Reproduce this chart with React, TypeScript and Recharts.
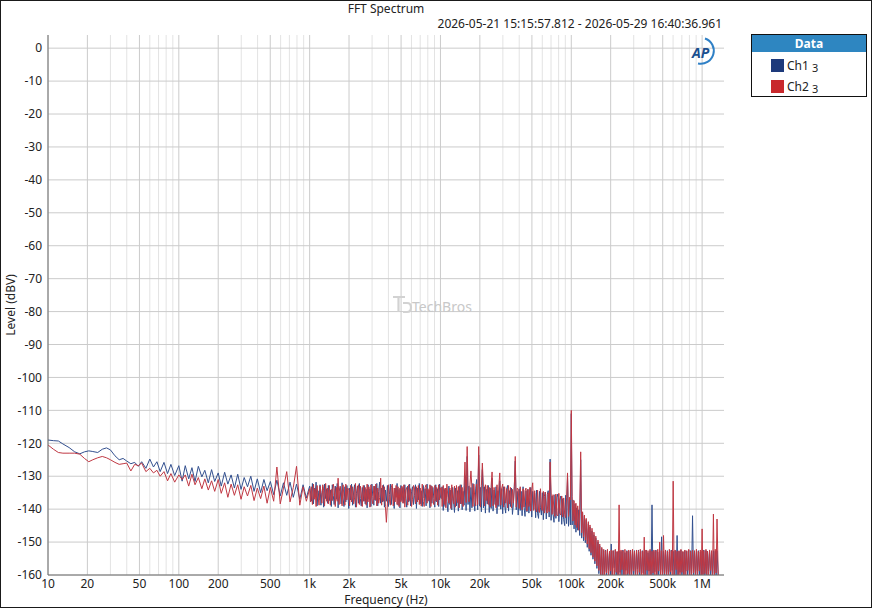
import React from 'react';
import { LineChart, Line, XAxis, YAxis, CartesianGrid } from 'recharts';

// ---- Frequencies (Hz), per band ----
const FREQ_LOW = [10, 11, 12, 13, 14.5, 16, 17.5, 19, 20.5, 22, 24, 26, 28, 30, 32.5, 35, 37.5, 40, 43, 46, 49, 52, 56, 60, 64, 68, 72, 77, 82, 87, 93, 100];
const FREQ_MID = [106, 112, 119, 126, 133, 141, 150, 158, 168, 178, 188, 200, 211, 224, 237, 251, 266, 282, 299, 316, 335, 355, 376, 398, 422, 447, 473, 501, 531, 562, 596, 631, 668, 708, 750, 794, 841, 891, 944, 1000];
const FREQ_1K = [
  1015, 1030, 1050, 1070, 1085, 1100, 1120, 1140, 1160, 1180,
  1200, 1220, 1240, 1260, 1280, 1300, 1325, 1350, 1370, 1390,
  1415, 1440, 1465, 1490, 1515, 1540, 1570, 1600, 1625, 1650,
  1680, 1710, 1740, 1770, 1800, 1830, 1860, 1890, 1925, 1960,
  1990, 2020, 2055, 2090, 2130, 2170, 2205, 2240, 2280, 2320,
  2360, 2400, 2440, 2480, 2525, 2570, 2615, 2660, 2705, 2750,
  2795, 2840, 2890, 2940, 2990, 3040, 3095, 3150, 3205, 3260,
  3315, 3370, 3430, 3490, 3550, 3610, 3670, 3730, 3795, 3860,
  3930, 4000, 4070, 4140, 4210, 4280, 4355, 4430, 4505, 4580,
  4660, 4740, 4820, 4900, 4985, 5070, 5160, 5250, 5340, 5430,
  5525, 5620, 5715, 5810, 5910, 6010, 6115, 6220, 6330, 6440,
  6550, 6660, 6775, 6890, 7010, 7130, 7255, 7380, 7505, 7630,
  7765, 7900, 8035, 8170, 8310, 8450, 8600, 8750, 8900, 9050,
  9205, 9360, 9525, 9690, 9845, 10000];
const FREQ_10K = [
  10150, 10300, 10500, 10700, 10850, 11000, 11200, 11400, 11600, 11800,
  12000, 12200, 12400, 12600, 12800, 13000, 13250, 13500, 13700, 13900,
  14150, 14400, 14650, 14900, 15150, 15400, 15700, 16000, 16250, 16500,
  16800, 17100, 17400, 17700, 18000, 18300, 18600, 18900, 19250, 19600,
  19900, 20200, 20550, 20900, 21300, 21700, 22050, 22400, 22800, 23200,
  23600, 24000, 24400, 24800, 25250, 25700, 26150, 26600, 27050, 27500,
  27950, 28400, 28900, 29400, 29900, 30400, 30950, 31500, 32050, 32600,
  33150, 33700, 34300, 34900, 35500, 36100, 36700, 37300, 37950, 38600,
  39300, 40000, 40700, 41400, 42100, 42800, 43550, 44300, 45050, 45800,
  46600, 47400, 48200, 49000, 49850, 50700, 51600, 52500, 53400, 54300,
  55250, 56200, 57150, 58100, 59100, 60100, 61150, 62200, 63300, 64400,
  65500, 66600, 67750, 68900, 70100, 71300, 72550, 73800, 75050, 76300,
  77650, 79000, 80350, 81700, 83100, 84500, 86000, 87500, 89000, 90500,
  92050, 93600, 95250, 96900, 98450, 100000];
const FREQ_100K = [
  101500, 103000, 105000, 107000, 108500, 110000, 112000, 114000, 116000, 118000,
  120000, 122000, 124000, 126000, 128000, 130000, 132500, 135000, 137000, 139000,
  141500, 144000, 146500, 149000, 151500, 154000, 157000, 160000, 162500, 165000,
  168000, 171000, 174000, 177000, 180000, 183000, 186000, 189000, 192500, 196000,
  199000, 202000, 205500, 209000, 213000, 217000, 220500, 224000, 228000, 232000,
  236000, 240000, 244000, 248000, 252500, 257000, 261500, 266000, 270500, 275000,
  279500, 284000, 289000, 294000, 299000, 304000, 309500, 315000, 320500, 326000,
  331500, 337000, 343000, 349000, 355000, 361000, 367000, 373000, 379500, 386000,
  393000, 400000, 407000, 414000, 421000, 428000, 435500, 443000, 450500, 458000,
  466000, 474000, 482000, 490000, 498500, 507000, 516000, 525000, 534000, 543000,
  552500, 562000, 571500, 581000, 591000, 601000, 611500, 622000, 633000, 644000,
  655000, 666000, 677500, 689000, 701000, 713000, 725500, 738000, 750500, 763000,
  776500, 790000, 803500, 817000, 831000, 845000, 860000, 875000, 890000, 905000,
  920500, 936000, 952500, 969000, 984500, 1000000, 1015000, 1030000, 1050000, 1070000,
  1085000, 1100000, 1120000, 1140000, 1160000, 1180000, 1200000, 1220000, 1240000, 1260000,
  1280000, 1300000, 1330000];

// ---- Ch1 level (dBV) ----
const CH1_LOW = [-119.0, -119.2, -119.3, -120.2, -121.3, -122.6, -123.2, -122.6, -122.3, -122.5, -122.8, -121.8, -121.4, -122.0, -123.8, -125.0, -124.6, -125.4, -126.2, -125.8, -127.0, -125.6, -127.6, -124.8, -127.2, -125.6, -128.6, -125.8, -129.2, -126.4, -129.8, -126.8];
const CH1_MID = [
  -131.5, -126.8, -130.8, -127.4, -131.6, -127.0, -130.2, -128.2, -132.0, -128.0,
  -131.6, -129.0, -133.0, -128.8, -132.4, -129.6, -133.6, -129.4, -134.0, -130.4,
  -133.2, -130.0, -134.6, -130.8, -135.0, -131.0, -134.4, -131.6, -135.6, -131.2,
  -136.0, -132.0, -135.8, -131.8, -136.4, -132.4, -137.0, -132.6, -136.6, -133.0];
const CH1_1K = [
  -134.8, -137.6, -132.2, -138.4, -133.6, -136.2, -131.8, -139.0, -134.4, -137.2,
  -132.6, -138.8, -135.0, -133.2, -139.4, -132.4, -136.8, -133.8, -138.2, -132.8,
  -137.4, -134.2, -139.2, -132.6, -135.8, -138.6, -133.0, -137.0, -132.2, -139.6,
  -134.6, -133.4, -138.4, -132.0, -136.6, -139.2, -133.2, -137.8, -132.8, -135.4,
  -139.8, -133.6, -137.2, -132.4, -138.8, -134.8, -132.6, -139.4, -135.2, -133.0,
  -138.2, -132.2, -136.8, -139.0, -133.4, -137.6, -132.8, -138.4, -134.0, -139.6,
  -132.6, -137.0, -133.8, -139.2, -132.4, -136.2, -138.8, -133.0, -137.4, -132.2,
  -139.0, -134.6, -131.8, -138.2, -133.6, -137.8, -132.6, -139.4, -134.2, -137.6,
  -132.8, -139.2, -135.6, -132.4, -138.6, -133.2, -137.0, -139.8, -133.6, -136.4,
  -132.2, -138.8, -134.0, -139.6, -132.8, -137.4, -133.4, -138.2, -132.6, -136.8,
  -139.4, -133.0, -137.8, -132.4, -139.0, -134.6, -133.2, -138.6, -135.8, -132.6,
  -139.8, -133.6, -137.2, -132.2, -138.4, -134.4, -139.2, -132.8, -136.6, -133.8,
  -139.0, -132.4, -137.6, -134.2, -139.6, -132.8, -138.2, -133.4, -136.8, -139.4,
  -132.6, -137.8, -133.8, -139.2, -132.4, -136.4];
const CH1_10K = [
  -136.8, -133.2, -140.4, -134.0, -139.2, -133.6, -137.6, -140.8, -133.0, -138.6,
  -134.2, -140.2, -133.4, -137.8, -141.0, -133.6, -139.0, -134.4, -140.6, -133.0,
  -138.4, -132.6, -140.2, -134.6, -138.8, -129.8, -140.4, -124.0, -138.6, -133.0,
  -140.8, -133.4, -139.6, -132.2, -137.2, -140.6, -133.6, -131.0, -140.2, -123.6,
  -139.0, -133.4, -140.8, -128.0, -139.6, -133.2, -141.2, -134.0, -138.4, -132.8,
  -141.0, -133.6, -139.8, -130.6, -140.6, -134.2, -138.6, -133.2, -141.4, -134.4,
  -139.2, -131.4, -140.0, -133.8, -141.4, -133.2, -138.8, -141.2, -134.0, -132.8,
  -140.6, -134.4, -139.2, -133.6, -141.6, -138.4, -133.0, -125.4, -140.2, -134.6,
  -141.8, -133.8, -140.4, -134.6, -142.0, -133.2, -139.4, -142.2, -134.4, -140.8,
  -134.0, -141.2, -136.4, -133.4, -142.4, -134.6, -140.0, -135.2, -142.6, -134.2,
  -141.4, -142.8, -134.6, -139.6, -141.8, -135.0, -143.2, -136.2, -134.8, -143.0,
  -135.6, -134.4, -142.4, -124.8, -143.4, -136.0, -141.6, -144.0, -135.6, -142.8,
  -136.4, -135.4, -143.8, -137.2, -136.0, -144.6, -136.8, -143.2, -145.0, -135.8,
  -144.4, -130.4, -145.2, -137.0, -144.8, -111.0];
const CH1_100K = [
  -144.8, -137.2, -146.0, -138.4, -147.0, -139.6, -146.4, -140.2, -148.0, -125.0,
  -148.8, -141.2, -149.6, -142.0, -150.2, -143.2, -151.6, -144.4, -152.8, -145.4,
  -154.0, -146.6, -155.2, -147.8, -156.6, -148.8, -158.0, -150.0, -159.6, -151.2,
  -160.6, -152.0, -161.0, -152.6, -159.0, -152.4, -161.0, -152.8, -158.4, -153.0,
  -161.0, -150.6, -161.0, -152.6, -157.8, -152.4, -161.0, -153.0, -161.0, -152.6,
  -159.2, -152.8, -161.0, -152.4, -161.0, -153.2, -158.6, -152.6, -161.0, -152.8,
  -161.0, -152.4, -159.6, -153.0, -161.0, -152.6, -161.0, -152.8, -158.2, -152.4,
  -161.0, -153.0, -161.0, -152.6, -159.4, -152.8, -161.0, -152.4, -161.0, -153.2,
  -158.8, -152.6, -161.0, -138.7, -161.0, -152.8, -159.0, -152.4, -161.0, -153.0,
  -161.0, -152.6, -158.4, -148.4, -161.0, -152.8, -161.0, -152.4, -159.8, -152.6,
  -161.0, -153.0, -161.0, -152.4, -158.6, -152.8, -161.0, -152.6, -161.0, -148.0,
  -161.0, -152.8, -159.2, -152.4, -161.0, -153.0, -161.0, -152.6, -158.8, -152.8,
  -161.0, -152.4, -161.0, -152.6, -159.4, -142.0, -161.0, -152.8, -161.0, -152.4,
  -158.6, -152.6, -161.0, -153.0, -161.0, -152.8, -159.8, -152.4, -161.0, -152.6,
  -161.0, -152.8, -158.8, -152.4, -161.0, -153.0, -161.0, -152.6, -159.6, -152.8,
  -161.0, -152.6, -161.0];

// ---- Ch2 level (dBV) ----
const CH2_LOW = [-120.5, -121.8, -122.8, -123.0, -123.0, -123.0, -123.3, -124.6, -125.6, -125.0, -124.4, -124.0, -124.4, -125.0, -125.8, -126.4, -126.2, -126.0, -128.4, -126.4, -126.8, -126.0, -128.6, -127.6, -129.0, -128.2, -130.0, -128.6, -131.4, -129.2, -131.8, -129.6];
const CH2_MID = [
  -131.0, -129.6, -133.0, -129.4, -132.6, -130.4, -133.8, -130.8, -134.2, -131.4,
  -134.6, -131.0, -135.2, -132.0, -136.4, -132.4, -135.8, -132.6, -137.0, -133.2,
  -136.0, -132.8, -137.4, -133.6, -136.8, -133.0, -138.2, -133.4, -137.6, -127.2,
  -138.4, -133.6, -128.6, -137.8, -133.4, -127.0, -138.8, -133.2, -137.6, -133.8];
const CH2_1K = [
  -137.8, -133.2, -138.6, -132.4, -137.0, -133.8, -139.2, -132.8, -136.4, -138.8,
  -133.0, -135.6, -138.2, -132.6, -134.4, -139.0, -132.2, -137.6, -133.6, -138.4,
  -132.8, -138.8, -134.0, -137.4, -132.4, -133.8, -139.2, -133.4, -137.6, -130.6,
  -138.6, -133.0, -134.8, -139.0, -132.6, -136.2, -138.8, -132.4, -137.2, -133.6,
  -134.4, -139.0, -132.8, -137.8, -133.2, -138.4, -136.6, -132.2, -139.4, -133.8,
  -132.6, -138.6, -133.0, -135.4, -139.2, -132.8, -137.6, -133.4, -138.8, -132.4,
  -137.8, -133.2, -139.4, -132.6, -136.8, -138.4, -133.0, -137.2, -132.4, -139.0,
  -133.6, -138.2, -136.4, -130.6, -138.8, -132.8, -137.6, -133.2, -139.2, -144.0,
  -138.4, -132.6, -137.2, -138.8, -133.4, -132.4, -139.0, -133.6, -137.8, -132.8,
  -138.6, -133.2, -139.2, -133.6, -137.8, -133.0, -138.2, -132.6, -139.4, -134.2,
  -133.4, -138.8, -132.6, -137.4, -133.8, -139.2, -137.0, -132.8, -133.6, -138.4,
  -133.2, -137.8, -132.8, -138.6, -133.6, -139.0, -132.4, -137.6, -139.2, -133.4,
  -132.6, -138.2, -133.8, -137.4, -132.6, -139.2, -133.0, -136.8, -138.6, -132.8,
  -137.6, -133.4, -138.8, -132.6, -137.2, -133.6];
const CH2_10K = [
  -133.4, -139.2, -132.8, -138.6, -133.6, -139.6, -132.4, -136.4, -138.2, -133.6,
  -139.8, -132.6, -136.8, -138.4, -133.0, -139.4, -132.8, -138.0, -133.2, -139.6,
  -132.6, -138.4, -133.4, -139.2, -132.8, -125.7, -138.0, -121.0, -133.4, -137.8,
  -132.6, -128.4, -133.8, -139.2, -132.4, -136.6, -139.0, -132.4, -138.6, -121.0,
  -133.2, -139.4, -132.8, -126.0, -133.2, -139.0, -132.6, -137.4, -132.8, -138.6,
  -133.4, -139.4, -133.0, -128.7, -139.0, -133.4, -137.6, -139.6, -132.6, -138.8,
  -133.0, -129.0, -138.8, -133.6, -132.4, -139.4, -133.2, -138.2, -133.8, -139.6,
  -132.8, -138.4, -133.4, -139.6, -134.0, -138.2, -133.2, -124.0, -139.4, -133.6,
  -134.0, -139.8, -133.2, -138.6, -140.2, -133.8, -139.4, -134.4, -133.6, -140.6,
  -134.0, -139.2, -133.4, -140.6, -134.2, -132.0, -140.4, -134.4, -139.6, -140.8,
  -134.2, -140.4, -141.0, -133.8, -139.8, -140.4, -134.6, -141.2, -134.8, -140.6,
  -141.2, -135.0, -140.8, -125.7, -134.8, -141.6, -135.6, -141.0, -142.2, -135.4,
  -141.8, -142.0, -135.2, -141.2, -141.8, -136.0, -142.4, -136.6, -141.6, -142.6,
  -136.4, -129.0, -142.2, -136.4, -137.2, -110.0];
const CH2_100K = [
  -136.2, -143.6, -137.4, -144.8, -138.2, -145.6, -139.0, -146.4, -140.0, -122.6,
  -147.2, -140.8, -148.4, -141.8, -149.4, -142.8, -150.6, -143.8, -152.0, -144.8,
  -153.2, -145.8, -154.6, -147.0, -155.8, -148.2, -157.2, -149.4, -158.6, -150.6,
  -160.0, -151.6, -161.0, -152.2, -161.0, -152.6, -159.4, -152.2, -161.0, -152.8,
  -158.8, -152.4, -161.0, -152.6, -161.0, -152.2, -159.2, -152.8, -161.0, -138.7,
  -161.0, -152.4, -158.4, -152.6, -161.0, -152.2, -161.0, -152.8, -159.6, -152.4,
  -161.0, -152.6, -161.0, -152.2, -158.8, -152.8, -161.0, -152.4, -161.0, -152.6,
  -159.2, -152.2, -161.0, -152.8, -161.0, -148.5, -161.0, -152.4, -158.6, -152.6,
  -161.0, -152.2, -161.0, -152.8, -159.4, -152.4, -161.0, -152.6, -161.0, -152.2,
  -158.8, -150.0, -161.0, -152.6, -161.0, -148.0, -159.6, -152.4, -161.0, -152.8,
  -161.0, -152.2, -159.0, -152.6, -161.0, -131.5, -161.0, -152.4, -158.4, -152.8,
  -161.0, -152.6, -161.0, -152.2, -159.2, -152.8, -161.0, -152.4, -161.0, -152.6,
  -158.6, -152.2, -161.0, -152.8, -161.0, -152.4, -159.4, -152.6, -161.0, -152.2,
  -161.0, -152.8, -158.8, -152.4, -161.0, -146.0, -161.0, -152.6, -159.6, -152.2,
  -161.0, -152.8, -161.0, -152.4, -158.6, -152.6, -161.0, -141.5, -161.0, -152.2,
  -159.4, -143.0, -161.0];

// ---- Axes ----
const X_TICKS = [10, 20, 50, 100, 200, 500, 1000, 2000, 5000, 10000, 20000, 50000, 100000, 200000, 500000, 1000000];
const X_TICK_LABELS = ['10', '20', '50', '100', '200', '500', '1k', '2k', '5k', '10k', '20k', '50k', '100k', '200k', '500k', '1M'];
const MINOR_GRID_HZ = [30, 40, 60, 70, 80, 90, 300, 400, 600, 700, 800, 900, 3000, 4000, 6000, 7000, 8000, 9000, 30000, 40000, 60000, 70000, 80000, 90000, 300000, 400000, 600000, 700000, 800000, 900000];
const Y_TICKS = [0, -10, -20, -30, -40, -50, -60, -70, -80, -90, -100, -110, -120, -130, -140, -150, -160];
const X_DOMAIN: [number, number] = [10, 1470000];
const Y_DOMAIN: [number, number] = [-160, 4];

const FREQ_HZ = [...FREQ_LOW, ...FREQ_MID, ...FREQ_1K, ...FREQ_10K, ...FREQ_100K];
const CH1 = [...CH1_LOW, ...CH1_MID, ...CH1_1K, ...CH1_10K, ...CH1_100K];
const CH2 = [...CH2_LOW, ...CH2_MID, ...CH2_1K, ...CH2_10K, ...CH2_100K];

const DATA = FREQ_HZ.map((f, i) => ({ f, ch1: CH1[i], ch2: CH2[i] }));

const FONT = '"Noto Sans", "Open Sans", sans-serif';
const TEXT = '#222222';
const FRAME = '#6e6e6e';

const fmtX = (v: number) => {
  const i = X_TICKS.indexOf(v);
  return i >= 0 ? X_TICK_LABELS[i] : String(v);
};

export default function App() {
  return (
    <div style={{ position: 'absolute', left: 0, top: 0, width: 872, height: 608, background: '#fff', fontFamily: FONT, overflow: 'hidden' }}>
      <LineChart width={872} height={608} data={DATA} margin={{ top: 35, right: 148, bottom: 0, left: 0 }}>
        <CartesianGrid horizontal={false} verticalValues={MINOR_GRID_HZ} stroke="#e3e3e3" />
        <CartesianGrid verticalValues={X_TICKS} horizontalValues={Y_TICKS} stroke="#cbcbcb" />
        <XAxis
          dataKey="f"
          type="number"
          scale="log"
          domain={X_DOMAIN}
          allowDataOverflow
          ticks={X_TICKS}
          interval={0}
          tickFormatter={fmtX}
          height={33}
          tickSize={3}
          tickMargin={1}
          tickLine={false}
          axisLine={{ stroke: FRAME }}
          tick={{ fill: TEXT, fontSize: 12, fontFamily: FONT }}
        />
        <XAxis
          xAxisId="top"
          orientation="top"
          dataKey="f"
          type="number"
          scale="log"
          domain={X_DOMAIN}
          allowDataOverflow
          height={0}
          tick={false}
          tickLine={false}
          axisLine={{ stroke: FRAME }}
        />
        <YAxis
          type="number"
          domain={Y_DOMAIN}
          allowDataOverflow
          ticks={Y_TICKS}
          interval={0}
          width={48}
          tickSize={5}
          tickMargin={1}
          tickLine={false}
          axisLine={{ stroke: FRAME }}
          tick={{ fill: TEXT, fontSize: 12, fontFamily: FONT }}
        />
        <YAxis
          yAxisId="r"
          orientation="right"
          type="number"
          domain={Y_DOMAIN}
          allowDataOverflow
          width={0}
          tick={false}
          tickLine={false}
          axisLine={{ stroke: FRAME }}
        />
        <Line dataKey="ch1" type="linear" stroke="#33508f" strokeWidth={1} dot={false} activeDot={false} isAnimationActive={false} />
        <Line dataKey="ch2" type="linear" stroke="#c03843" strokeWidth={1} dot={false} activeDot={false} isAnimationActive={false} />
      </LineChart>

      <svg width={872} height={608} style={{ position: 'absolute', left: 0, top: 0, pointerEvents: 'none', fontFamily: FONT }}>
        <text x={386} y={13} textAnchor="middle" fontSize={12} fill={TEXT}>FFT Spectrum</text>
        <text x={722} y={28} textAnchor="end" fontSize={12} fill={TEXT}>2026-05-21 15:15:57.812 - 2026-05-29 16:40:36.961</text>
        <text x={386} y={604} textAnchor="middle" fontSize={12} fill={TEXT}>Frequency (Hz)</text>
        <text transform="translate(15,305) rotate(-90)" textAnchor="middle" fontSize={12} fill={TEXT}>Level (dBV)</text>

        {/* AP logo */}
        <text x={692} y={58} fontSize={14} fontWeight={700} fontStyle="italic" fill="#1b4f8e">AP</text>
        <path d="M 705 38.5 A 13 13 0 0 1 698 63.5" fill="none" stroke="#2f80c6" strokeWidth={2} />

        {/* watermark */}
        <g stroke="#d2d2d2" strokeWidth={2.2} fill="none">
          <path d="M 393 297 H 405 M 398.5 297 V 312" />
          <path d="M 403 303 H 407 Q 411 303 411 307.5 Q 411 312 407 312 H 403" />
        </g>
        <text x={412} y={312} fontSize={14} fill="#c8c8c8">TechBros</text>

        {/* legend */}
        <rect x={751.5} y={34.5} width={115} height={62} fill="#fff" stroke="#111" strokeWidth={1} />
        <rect x={752} y={35} width={114} height={17} fill="#2e86c1" />
        <text x={809} y={48} textAnchor="middle" fontSize={12} fontWeight={700} fill="#fff">Data</text>
        <rect x={771} y={59} width={13} height={13} fill="#1d3a7b" />
        <text x={787} y={70} fontSize={12} fill={TEXT}>Ch1</text>
        <text x={812} y={72} fontSize={11} fill={TEXT}>3</text>
        <rect x={771} y={80} width={13} height={13} fill="#c8282c" />
        <text x={787} y={91} fontSize={12} fill={TEXT}>Ch2</text>
        <text x={812} y={93} fontSize={11} fill={TEXT}>3</text>

        {/* outer frame */}
        <rect x={0.5} y={0.5} width={871} height={607} fill="none" stroke="#1a1a1a" strokeWidth={1} />
      </svg>
    </div>
  );
}
